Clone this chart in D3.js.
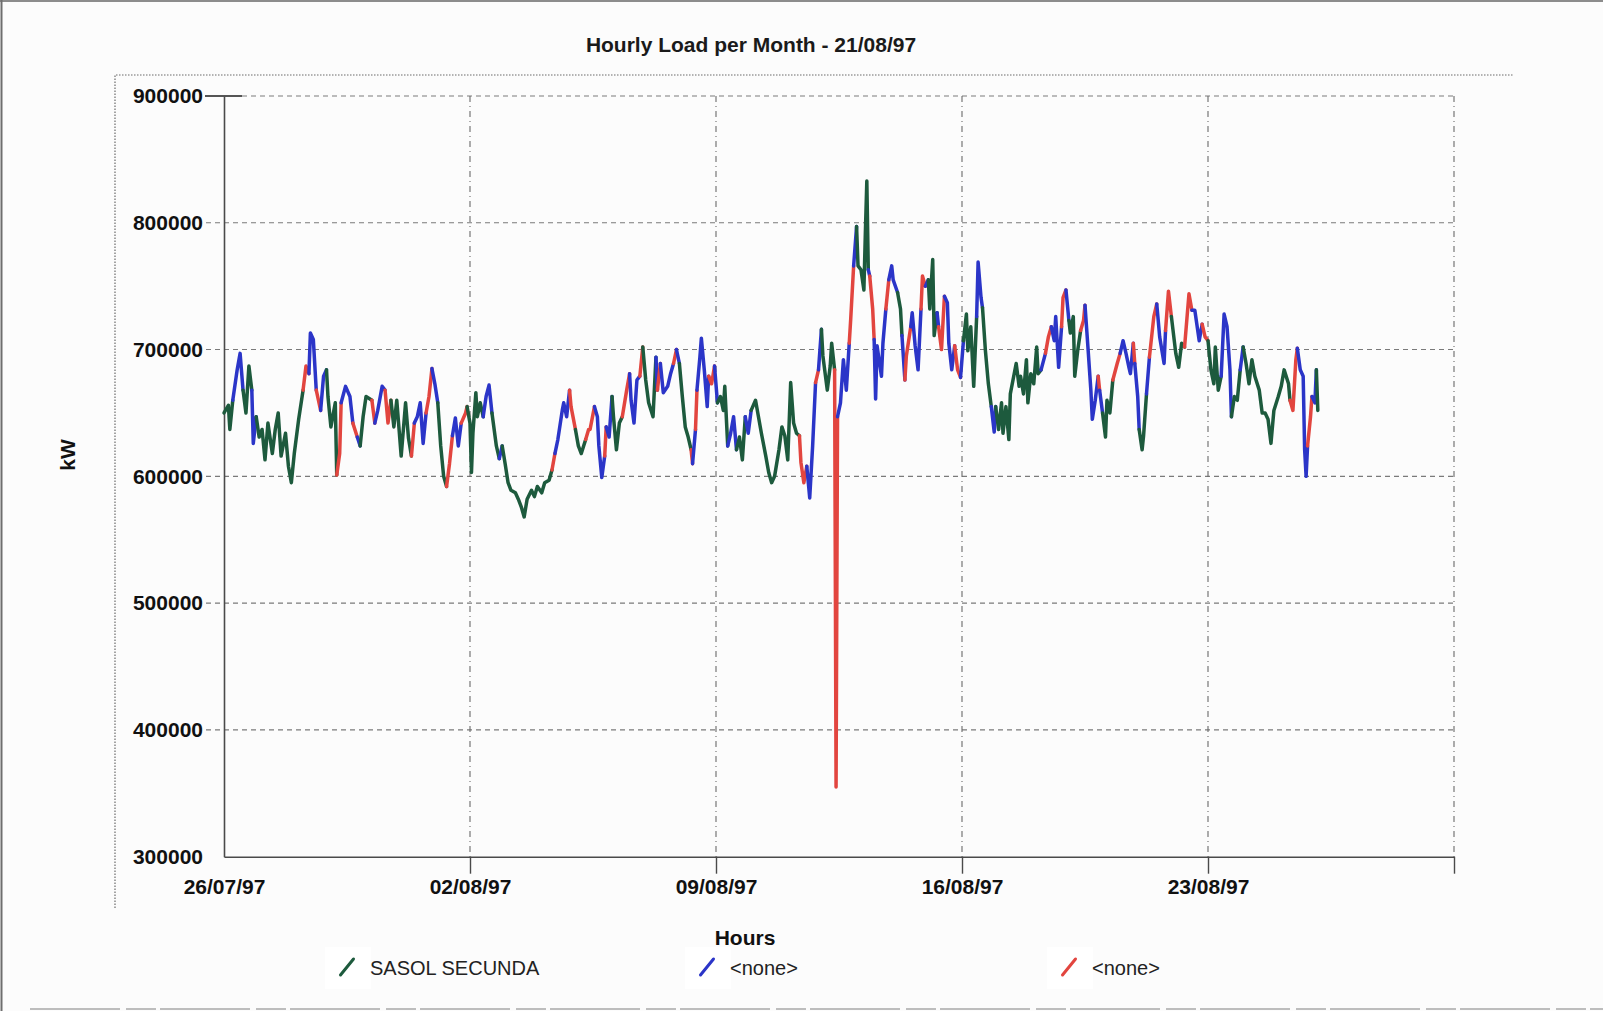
<!DOCTYPE html>
<html>
<head>
<meta charset="utf-8">
<title>Hourly Load per Month - 21/08/97</title>
<script src="https://cdn.jsdelivr.net/npm/d3@7"></script>
<style>
  html, body { margin: 0; padding: 0; background: #fcfcfc; }
  svg { display: block; font-family: "Liberation Sans", Arial, sans-serif; }
</style>
</head>
<body>
<svg id="chart" width="1603" height="1011"></svg>
<script>
// ---- data -------------------------------------------------------------
const chartTitle = "Hourly Load per Month - 21/08/97";
const startLabel = "26/07/97";          // hour 0 of the series
const endLabel = "30/08/97";            // right edge of the time axis

// hours since 26/07/97 00:00
const hourOffsets = [
  0, 3, 4, 6, 9, 11, 13, 15, 17, 19,
  20, 22, 24, 26, 28, 30, 33, 35, 37, 39,
  42, 44, 46, 48, 51, 54, 56, 58, 59, 61,
  63, 66, 68, 70, 71, 73, 76, 77, 79, 80,
  83, 86, 88, 91, 93, 95, 97, 101, 103, 105,
  108, 110, 112, 114, 116, 118, 121, 124, 126, 128,
  130, 132, 134, 136, 138, 140, 142, 144, 146, 148,
  150, 152, 154, 156, 158, 160, 162, 165, 166, 168,
  169, 170, 172, 173, 175, 177, 179, 181, 183, 186,
  188, 190, 192, 194, 196, 199, 201, 203, 205, 207,
  210, 212, 214, 217, 219, 222, 224, 226, 228, 231,
  232, 234, 236, 237, 240, 242, 244, 247, 249, 250,
  253, 255, 256, 258, 260, 261, 263, 265, 266, 268,
  270, 272, 275, 277, 278, 280, 282, 284, 286, 288,
  290, 293, 295, 296, 298, 300, 303, 305, 307, 309,
  311, 313, 315, 317, 319, 320, 322, 323, 325, 326,
  328, 330, 331, 333, 335, 337, 339, 341, 342, 344,
  346, 348, 350, 352, 354, 356, 358, 360, 363, 365,
  367, 370, 372, 374, 376, 379, 381, 383, 385, 387,
  389, 391, 393, 394, 396, 398, 400, 402, 404, 406,
  408, 409, 412, 414, 415, 417, 418, 419, 421, 423,
  425, 427, 428, 430, 432, 433, 435, 437, 438, 439,
  440, 441, 443, 444, 445, 446, 447, 449, 450, 452,
  454, 456, 457, 460, 462, 463, 465, 466, 469, 470,
  472, 474, 476, 477, 479, 481, 482, 484, 485, 487,
  488, 490, 492, 494, 495, 497, 499, 501, 503, 505,
  507, 508, 510, 512, 514, 515, 517, 518, 520, 522,
  524, 526, 527, 529, 531, 532, 534, 536, 537, 541,
  543, 544, 546, 548, 549, 551, 553, 555, 556, 558,
  561, 563, 565, 567, 568, 570, 572, 573, 575, 577,
  578, 580, 581, 583, 585, 587, 588, 590, 592, 593,
  595, 597, 598, 600, 602, 603, 605, 607, 610, 612,
  614, 616, 618, 619, 621, 622, 624, 625, 627, 628,
  630, 632, 635, 637, 639, 642, 643, 645, 647, 650,
  652, 654, 656, 659, 661, 663, 666, 668, 670, 672,
  674, 676, 677, 679, 681, 683, 685, 687, 688, 690,
  692, 694, 696, 698, 700, 702, 704, 707, 709, 711,
  713, 715, 717, 720, 722, 724, 727, 728, 730, 732,
  733, 735, 737, 738, 739, 740, 742, 743, 745, 746,
  747
];

// load in kW at each of those hours
const loadKW = [
  650000, 656000, 637000, 660000, 684000, 697000, 668000, 650000, 687000, 668000,
  626000, 647000, 631000, 637000, 613000, 642000, 618000, 637000, 650000, 616000,
  634000, 608000, 595000, 618000, 645000, 668000, 687000, 681000, 713000, 708000,
  668000, 652000, 679000, 684000, 663000, 639000, 658000, 601000, 618000, 658000,
  671000, 663000, 642000, 631000, 624000, 647000, 663000, 660000, 642000, 652000,
  671000, 668000, 642000, 660000, 639000, 660000, 616000, 658000, 630000, 616000,
  642000, 647000, 658000, 626000, 650000, 663000, 685000, 673000, 658000, 624000,
  600000, 592000, 610000, 632000, 646000, 624000, 642000, 650000, 655000, 642000,
  603000, 634000, 666000, 647000, 658000, 647000, 663000, 672000, 650000, 624000,
  614000, 624000, 610000, 595000, 589000, 587000, 582000, 576000, 568000, 582000,
  589000, 584000, 592000, 587000, 595000, 597000, 605000, 618000, 629000, 652000,
  658000, 647000, 668000, 655000, 637000, 624000, 618000, 629000, 637000, 637000,
  655000, 647000, 624000, 599000, 616000, 639000, 631000, 663000, 647000, 621000,
  642000, 647000, 668000, 681000, 660000, 642000, 676000, 679000, 702000, 676000,
  658000, 647000, 694000, 668000, 689000, 666000, 671000, 681000, 689000, 700000,
  689000, 663000, 639000, 631000, 621000, 610000, 637000, 668000, 694000, 709000,
  684000, 655000, 679000, 673000, 687000, 658000, 663000, 652000, 671000, 624000,
  634000, 647000, 621000, 631000, 613000, 647000, 634000, 652000, 660000, 647000,
  634000, 616000, 603000, 595000, 600000, 621000, 639000, 632000, 613000, 674000,
  642000, 634000, 632000, 611000, 595000, 608000, 583000, 624000, 674000, 684000,
  716000, 695000, 668000, 687000, 705000, 684000, 355000, 647000, 658000, 692000,
  668000, 705000, 724000, 766000, 797000, 766000, 763000, 747000, 792000, 833000,
  763000, 758000, 732000, 708000, 661000, 703000, 695000, 679000, 705000, 732000,
  755000, 766000, 755000, 745000, 732000, 711000, 676000, 695000, 718000, 729000,
  703000, 684000, 732000, 758000, 750000, 755000, 732000, 771000, 711000, 729000,
  718000, 700000, 742000, 737000, 705000, 684000, 703000, 684000, 678000, 707000,
  728000, 699000, 718000, 671000, 726000, 769000, 741000, 733000, 699000, 673000,
  655000, 635000, 655000, 637000, 658000, 634000, 655000, 629000, 665000, 689000,
  671000, 679000, 665000, 692000, 658000, 681000, 673000, 702000, 681000, 684000,
  697000, 710000, 718000, 707000, 726000, 686000, 718000, 741000, 747000, 723000,
  713000, 726000, 679000, 699000, 715000, 723000, 735000, 702000, 668000, 645000,
  660000, 679000, 668000, 650000, 631000, 660000, 650000, 676000, 689000, 697000,
  707000, 697000, 686000, 681000, 705000, 689000, 663000, 637000, 621000, 632000,
  665000, 694000, 726000, 736000, 710000, 689000, 715000, 746000, 726000, 697000,
  686000, 705000, 702000, 744000, 731000, 731000, 707000, 720000, 710000, 707000,
  684000, 673000, 702000, 668000, 679000, 728000, 718000, 684000, 647000, 663000,
  660000, 684000, 702000, 689000, 673000, 692000, 679000, 668000, 650000, 650000,
  645000, 626000, 652000, 663000, 671000, 684000, 673000, 660000, 652000, 692000,
  701000, 684000, 679000, 621000, 600000, 624000, 647000, 663000, 658000, 684000,
  652000
];

// which series is drawn on top from a given hour on
// (0 = SASOL SECUNDA, 1 = first <none>, 2 = second <none>)
const runStartHour = [
  0, 6, 13, 19, 22, 54, 58, 63, 66, 70, 77, 80, 88, 91, 93, 101, 103, 110, 114, 128,
  130, 138, 142, 146, 152, 156, 162, 166, 177, 183, 188, 190, 224, 226, 236, 240, 247, 253, 260, 261,
  265, 272, 277, 284, 286, 295, 296, 298, 307, 309, 311, 319, 320, 322, 323, 331, 335, 337, 344, 350,
  356, 360, 393, 398, 404, 406, 408, 417, 419, 427, 430, 432, 440, 441, 444, 452, 454, 460, 463, 465,
  469, 476, 479, 481, 487, 488, 492, 499, 503, 505, 514, 518, 524, 527, 558, 561, 565, 572, 575, 577,
  585, 588, 597, 598, 600, 607, 612, 621, 622, 625, 630, 632, 637, 643, 647, 656, 661, 668, 672, 681,
  688, 694, 696, 728, 733, 740, 743, 746
];
const runSeries = [
  0, 1, 0, 1, 0, 2, 1, 2, 1, 0, 2, 1, 2, 1, 0, 2, 1, 2, 0, 2,
  1, 2, 1, 0, 2, 1, 2, 0, 1, 0, 1, 0, 2, 1, 2, 0, 2, 1, 2, 1,
  0, 2, 1, 2, 0, 1, 2, 1, 2, 1, 0, 2, 1, 2, 1, 2, 1, 0, 1, 0,
  1, 0, 2, 1, 2, 1, 0, 2, 1, 2, 1, 0, 1, 2, 1, 2, 1, 0, 1, 2,
  1, 2, 1, 0, 1, 2, 1, 2, 1, 0, 1, 0, 1, 0, 1, 2, 1, 2, 1, 0,
  2, 1, 2, 1, 0, 2, 1, 2, 1, 0, 1, 2, 1, 2, 0, 2, 1, 2, 0, 1,
  0, 1, 0, 2, 1, 2, 1, 0
];

const seriesNames = ["SASOL SECUNDA", "<none>", "<none>"];
const yTickValues = [300000, 400000, 500000, 600000, 700000, 800000, 900000];
const xTickLabels = ["26/07/97", "02/08/97", "09/08/97", "16/08/97", "23/08/97"];
const xTitle = "Hours";
const yTitle = "kW";

// ---- drawing ----------------------------------------------------------
const seriesColors = ["#1d5a3d", "#2b35c8", "#e2453f"];
const parseDay = d3.timeParse("%d/%m/%y");
const fmtDay = d3.timeFormat("%d/%m/%y");
const t0 = parseDay(startLabel);
const tEnd = parseDay(endLabel);

const plot = { left: 224, right: 1454, top: 96, bottom: 856.7 };

const x = d3.scaleTime().domain([t0, tEnd]).range([plot.left, plot.right]);
const y = d3.scaleLinear().domain([300000, 900000]).range([plot.bottom, plot.top]);

const svg = d3.select("#chart");

// page frame
svg.append("line").attr("x1", 0).attr("x2", 1603).attr("y1", 1).attr("y2", 1)
  .attr("stroke", "#8c8c8c").attr("stroke-width", 2);
svg.append("line").attr("x1", 1.5).attr("x2", 1.5).attr("y1", 0).attr("y2", 1011)
  .attr("stroke", "#6e6e6e").attr("stroke-width", 2);
svg.append("line").attr("x1", 30).attr("x2", 1603).attr("y1", 1009).attr("y2", 1009)
  .attr("stroke", "#bdbdbd").attr("stroke-width", 2).attr("stroke-dasharray", "90,6,30,4");

// dotted chart-area outline (top and left edges)
svg.append("path")
  .attr("d", `M115,908 V75 H1513`)
  .attr("fill", "none").attr("stroke", "#6a6a6a").attr("stroke-width", 1.2)
  .attr("stroke-dasharray", "1.5,1.5");

// title
svg.append("text").attr("x", 751).attr("y", 51.5).attr("text-anchor", "middle")
  .attr("font-size", 21).attr("font-weight", "bold").attr("fill", "#1a1a1a")
  .text(chartTitle);

// horizontal grid
const gridH = yTickValues.filter(v => v > 300000);
svg.append("g").selectAll("line").data(gridH).join("line")
  .attr("x1", 206).attr("x2", plot.right)
  .attr("y1", d => y(d)).attr("y2", d => y(d))
  .attr("stroke", "#7a7a7a").attr("stroke-width", 1.1)
  .attr("stroke-dasharray", "5,4");
// solid stub at the top tick
svg.append("line").attr("x1", 205).attr("x2", 242)
  .attr("y1", y(900000)).attr("y2", y(900000))
  .attr("stroke", "#555").attr("stroke-width", 1.8);

// vertical grid (weekly)
const gridDates = xTickLabels.slice(1).map(parseDay).concat([tEnd]);
svg.append("g").selectAll("line").data(gridDates).join("line")
  .attr("x1", d => x(d)).attr("x2", d => x(d))
  .attr("y1", plot.top).attr("y2", plot.bottom)
  .attr("stroke", "#6a6a6a").attr("stroke-width", 1.1)
  .attr("stroke-dasharray", "6,4,1,4");

// y axis
const yAxis = svg.append("g").attr("transform", `translate(${plot.left},0)`)
  .call(d3.axisLeft(y).tickValues(yTickValues).tickFormat(d3.format("d"))
    .tickSize(0).tickSizeOuter(0).tickPadding(21));
yAxis.select(".domain").attr("stroke", "#4a4a4a").attr("stroke-width", 1.6);
yAxis.selectAll("text").attr("font-size", 21).attr("font-weight", "bold")
  .attr("fill", "#111").attr("font-family", "Liberation Sans, Arial, sans-serif");

// x axis
const xAxis = svg.append("g").attr("transform", `translate(0,${plot.bottom})`)
  .call(d3.axisBottom(x).tickValues(xTickLabels.map(parseDay).concat([tEnd]))
    .tickFormat(d => d.getTime() === tEnd.getTime() ? "" : fmtDay(d))
    .tickSize(17).tickSizeOuter(0).tickPadding(5));
xAxis.select(".domain").attr("stroke", "#4a4a4a").attr("stroke-width", 1.6);
xAxis.selectAll(".tick line").attr("stroke", "#4a4a4a").attr("stroke-width", 1.4)
  .attr("opacity", d => d.getTime() === t0.getTime() ? 0 : 1);
xAxis.selectAll("text").attr("font-size", 21).attr("font-weight", "bold")
  .attr("fill", "#111").attr("font-family", "Liberation Sans, Arial, sans-serif");

// y axis title
svg.append("text").attr("transform", "translate(75,455) rotate(-90)")
  .attr("text-anchor", "middle")
  .attr("font-size", 21).attr("font-weight", "bold").attr("fill", "#111").text(yTitle);

// load trace, coloured by whichever series is on top for each stretch
const points = hourOffsets.map((h, i) => ({
  t: d3.timeHour.offset(t0, h), h, v: loadKW[i]
}));
const seriesAt = h => runSeries[d3.bisectRight(runStartHour, h) - 1];

const runs = [];
for (let i = 0; i < points.length - 1; i++) {
  const s = seriesAt(points[i].h);
  const last = runs[runs.length - 1];
  if (last && last.s === s) last.pts.push(points[i + 1]);
  else runs.push({ s, pts: [points[i], points[i + 1]] });
}

const line = d3.line().x(d => x(d.t)).y(d => y(d.v));
svg.append("g").selectAll("path").data(runs).join("path")
  .attr("d", d => line(d.pts))
  .attr("fill", "none")
  .attr("stroke", d => seriesColors[d.s])
  .attr("stroke-width", 3.5)
  .attr("stroke-linejoin", "round")
  .attr("stroke-linecap", "round");

// legend
const legendX = [347, 707, 1069];
const lg = svg.append("g").selectAll("g").data(seriesNames).join("g")
  .attr("transform", (d, i) => `translate(${legendX[i]},967)`);
lg.append("rect").attr("x", -22).attr("y", -20).attr("width", 46).attr("height", 42)
  .attr("fill", "#ffffff");
lg.append("line").attr("x1", -6.5).attr("y1", 8).attr("x2", 6.5).attr("y2", -8)
  .attr("stroke", (d, i) => seriesColors[i]).attr("stroke-width", 3)
  .attr("stroke-linecap", "round");
lg.append("text").attr("x", 23).attr("y", 7.5)
  .attr("font-size", 20).attr("fill", "#222").text(d => d);

// x axis title (drawn above the legend boxes)
svg.append("text").attr("x", 745).attr("y", 945).attr("text-anchor", "middle")
  .attr("font-size", 21).attr("font-weight", "bold").attr("fill", "#111").text(xTitle);
</script>
</body>
</html>
